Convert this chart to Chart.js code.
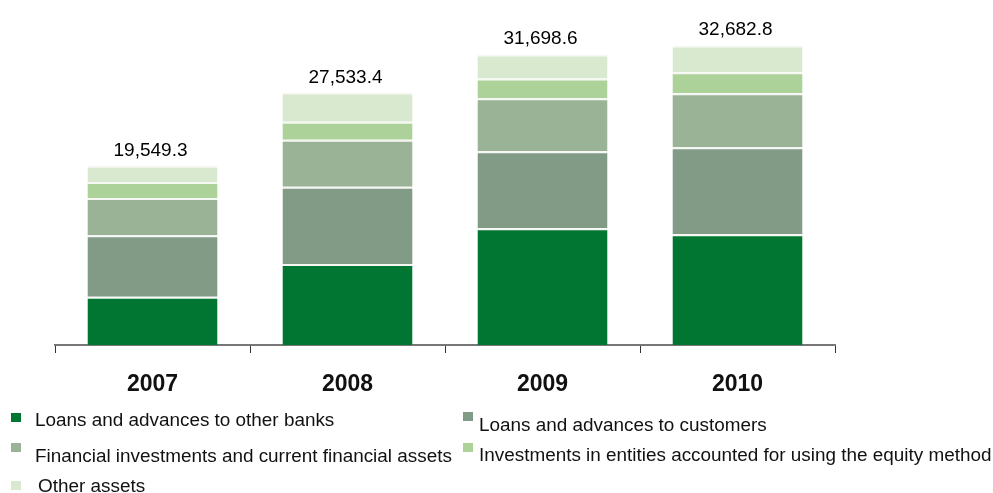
<!DOCTYPE html>
<html>
<head>
<meta charset="utf-8">
<title>Total assets</title>
<script src="https://cdn.jsdelivr.net/npm/chart.js@4.4.0/dist/chart.umd.min.js"></script>
<style>
  html, body { margin: 0; padding: 0; background: #fff; }
  #wrap { width: 993px; height: 493px; }
</style>
</head>
<body>
<div id="wrap"><canvas id="assets" width="993" height="493"></canvas></div>
<script>
// values in EUR million, bottom segment first
const years = ["2007", "2008", "2009", "2010"];
const banks = [5271.7, 8850.0, 12745.0, 12092.6];
const customers = [6699.4, 8413.0, 8387.8, 9478.0];
const finAssets = [4063.6, 5135.3, 5773.5, 5882.9];
const equityMethod = [1757.2, 1966.7, 2178.6, 2287.8];
const otherAssets = [1757.4, 3168.4, 2613.7, 2941.5];

const seriesNames = [
    "Loans and advances to other banks",
    "Loans and advances to customers",
    "Financial investments and current financial assets",
    "Investments in entities accounted for using the equity method",
    "Other assets"
];
const seriesColors = ["#007632", "#819b87", "#9ab397", "#acd199", "#d9e9d0"];
const seriesData = [banks, customers, finAssets, equityMethod, otherAssets];

const FONT = "'Liberation Sans', Arial, Helvetica, sans-serif";

const fmt = v => v.toLocaleString("en-US", { minimumFractionDigits: 1, maximumFractionDigits: 1 });

// total printed above each stack
const stackTotals = {
    id: "stackTotals",
    afterDatasetsDraw(chart) {
        const ctx = chart.ctx;
        const last = chart.getDatasetMeta(chart.data.datasets.length - 1);
        ctx.save();
        ctx.font = "19px " + FONT;
        ctx.fillStyle = "#000";
        ctx.textAlign = "center";
        ctx.textBaseline = "alphabetic";
        years.forEach((y, i) => {
            const total = seriesData.reduce((s, arr) => s + arr[i], 0);
            const bar = last.data[i];
            ctx.fillText(fmt(total), bar.x - 2, bar.y - 10);
        });
        ctx.restore();
    }
};

// two-column legend under the axis
const legendSpots = [
    { x: 11, y: 413, tx: 35, ty: 426 },
    { x: 463, y: 412, tx: 479, ty: 431 },
    { x: 11, y: 443, tx: 35, ty: 462 },
    { x: 463, y: 443, tx: 479, ty: 461 },
    { x: 11, y: 481, tx: 38, ty: 492 }
];
const sideLegend = {
    id: "sideLegend",
    afterDraw(chart) {
        const ctx = chart.ctx;
        ctx.save();
        ctx.font = "18.9px " + FONT;
        ctx.textBaseline = "alphabetic";
        ctx.textAlign = "left";
        chart.data.datasets.forEach((ds, i) => {
            const p = legendSpots[i];
            ctx.fillStyle = ds.backgroundColor;
            ctx.fillRect(p.x, p.y, 10, 9);
            ctx.fillStyle = "#111";
            ctx.fillText(ds.label, p.tx, p.ty);
        });
        ctx.restore();
    }
};

new Chart(document.getElementById("assets"), {
    type: "bar",
    data: {
        labels: years,
        datasets: seriesData.map((arr, i) => ({
            label: seriesNames[i],
            data: arr,
            backgroundColor: seriesColors[i],
            borderColor: "#f4f7f2",
            borderWidth: { top: 2, left: 0, right: 0, bottom: 0 },
            borderSkipped: false,
            categoryPercentage: 1,
            barPercentage: 0.667
        }))
    },
    options: {
        responsive: false,
        animation: false,
        devicePixelRatio: 1,
        layout: { padding: { top: 15, left: 55, right: 158, bottom: 93 } },
        plugins: {
            legend: { display: false },
            tooltip: { enabled: false }
        },
        scales: {
            x: {
                stacked: true,
                offset: true,
                afterFit(scale) { scale.height = 55; },
                grid: {
                    offset: true,
                    drawOnChartArea: false,
                    drawTicks: true,
                    tickLength: 8,
                    tickColor: "#333",
                    tickWidth: 1
                },
                border: { display: true, color: "#777", width: 2 },
                ticks: {
                    color: "#111",
                    padding: 18,
                    font: { family: FONT, size: 23, weight: "bold" }
                }
            },
            y: {
                stacked: true,
                display: false,
                min: 0,
                max: 36000
            }
        }
    },
    plugins: [stackTotals, sideLegend]
});
</script>
</body>
</html>
